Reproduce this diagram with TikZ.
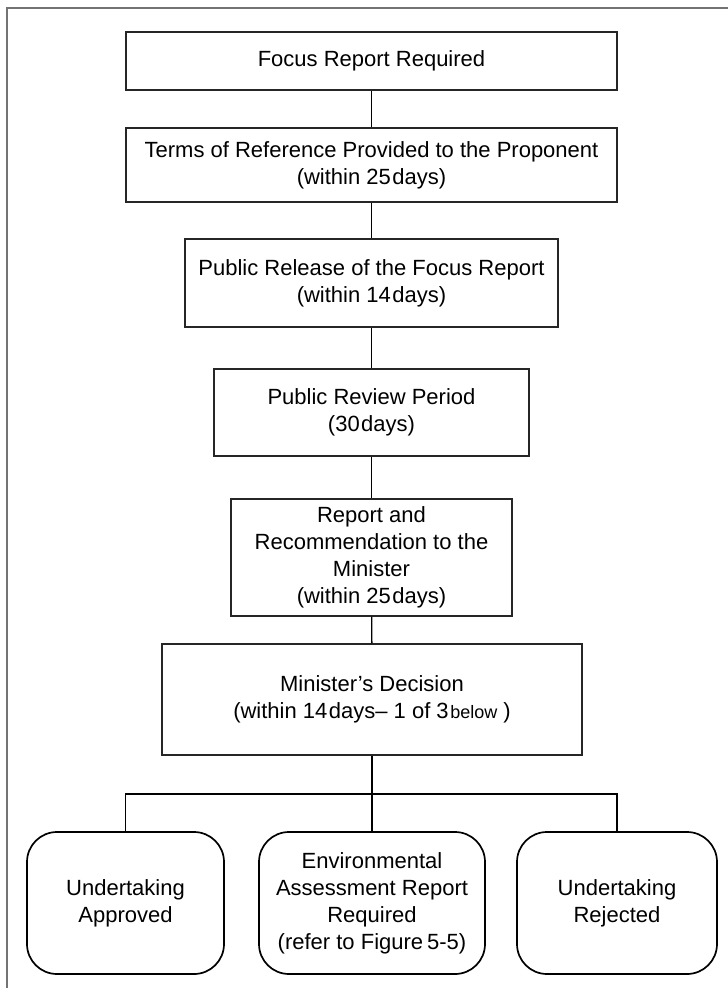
\documentclass[tikz,border=0pt]{standalone}
\usepackage{fontspec}
\setmainfont{Liberation Sans}
\begin{document}
\begin{tikzpicture}[x=1pt,y=-1pt,
  every node/.style={font=\fontsize{22}{27}\selectfont, align=center, inner sep=0pt},
  sqbox/.style={draw=black!85, line width=1.1pt, rectangle},
  rbox/.style={draw=black, line width=1.7pt, rectangle, rounded corners=30pt},
  conn/.style={draw=black, line width=1.4pt},
  frameline/.style={draw=black!55, line width=1.2pt}]
\useasboundingbox (0,0) rectangle (728,988);
\fill[white] (0,0) rectangle (728,988);
\draw[frameline] (7,988) -- (7,8) -- (728,8);

\node[sqbox, minimum width=491pt, minimum height=58pt] (b1) at (371.5,61) {Focus Report Required};
\node[sqbox, minimum width=491pt, minimum height=74pt] (b2) at (371.5,165) {Terms of Reference Provided to the Proponent\\(within 25\kern1.5pt days)};
\node[sqbox, minimum width=373pt, minimum height=88pt] (b3) at (371.5,283) {Public Release of the Focus Report\\(within 14\kern1.5pt days)};
\node[sqbox, minimum width=315pt, minimum height=87pt] (b4) at (371.5,412.5) {Public Review Period\\(30\kern1.5pt days)};
\node[sqbox, minimum width=281pt, minimum height=117pt] (b5) at (371.5,557.5) {Report and\\Recommendation to the\\Minister\\(within 25\kern1.5pt days)};
\node[sqbox, minimum width=420pt, minimum height=111pt] (b6) at (372,699.5) {Minister's Decision\\(within 14\kern1.5pt days-- 1 of 3\kern1.5pt{\fontsize{18}{27}\selectfont below} )};

\node[rbox, minimum width=197pt, minimum height=142pt] (r1) at (125.5,903) {Undertaking\\Approved};
\node[rbox, minimum width=226pt, minimum height=142pt] (r2) at (372,903) {Environmental\\Assessment Report\\Required\\(refer to Figure\kern4pt 5-5)};
\node[rbox, minimum width=200pt, minimum height=142pt] (r3) at (617,903) {Undertaking\\Rejected};

\coordinate (bar) at (372,794);
\draw[conn] (b1) -- (b2);
\draw[conn] (b2) -- (b3);
\draw[conn] (b3) -- (b4);
\draw[conn] (b4) -- (b5);
\draw[conn] (b5) -- (b6);
\draw[conn] (b6) -- (r2);
\draw[conn] (r1.north) |- (bar) -| (r3.north);
\end{tikzpicture}
\end{document}
